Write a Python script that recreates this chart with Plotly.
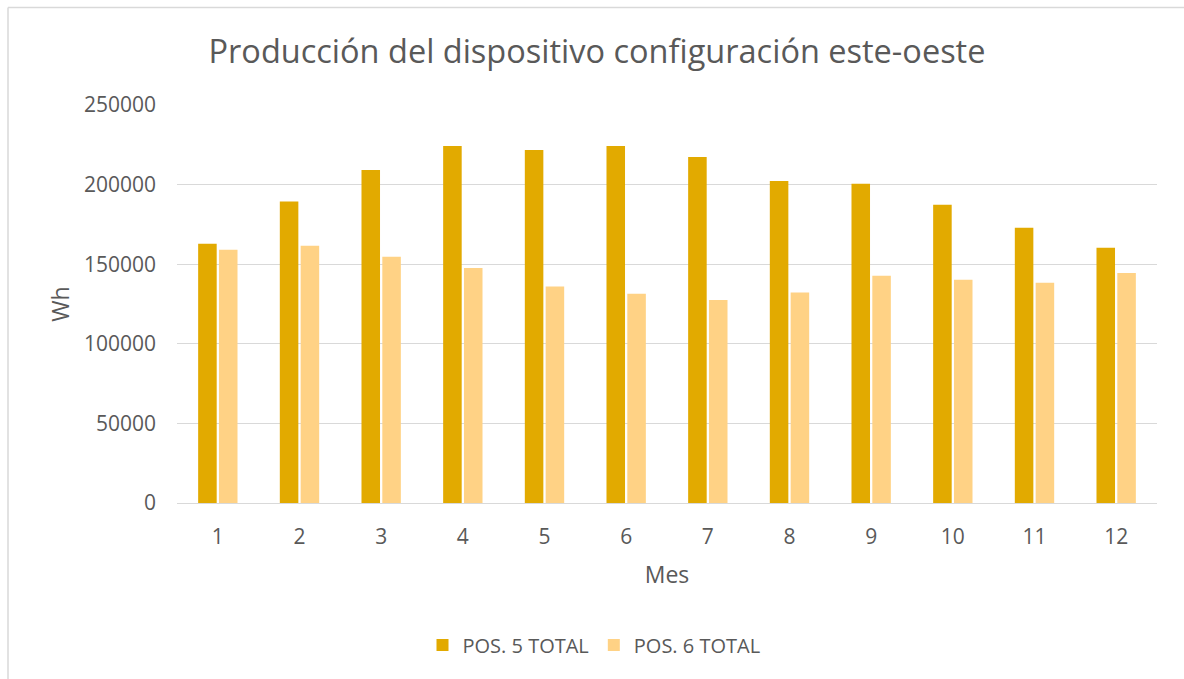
import plotly.graph_objects as go

months = [1, 2, 3, 4, 5, 6, 7, 8, 9, 10, 11, 12]
pos5_total = [162800, 189400, 209200, 224300, 221800, 224300, 217400, 202200, 200500, 187300, 172900, 160300]
pos6_total = [159100, 161600, 154700, 147600, 136000, 131400, 127500, 132300, 142700, 140200, 138300, 144400]
series_names = ["POS. 5 TOTAL", "POS. 6 TOTAL"]
y_ticks = [0, 50000, 100000, 150000, 200000, 250000]

W, H = 1184, 679
ML, MR, MT, MB = 177, 27, 105, 176
pw = W - ML - MR
ph = H - MT - MB

TXT = "#595959"
GRID = "#D9D9D9"
FONT = "Open Sans"

fig = go.Figure()
fig.add_trace(go.Bar(x=months, y=pos5_total, name=series_names[0],
                     marker=dict(color="#E2AA00", line=dict(width=0))))
fig.add_trace(go.Bar(x=months, y=pos6_total, name=series_names[1],
                     marker=dict(color="#FFD285", line=dict(width=0))))

def px_x(p):
    return (p - ML) / pw

def px_y(p):
    return (H - MB - p) / ph

fig.update_layout(
    width=W, height=H,
    margin=dict(l=ML, r=MR, t=MT, b=MB, autoexpand=False),
    paper_bgcolor="white", plot_bgcolor="white",
    font=dict(family=FONT, color=TXT, size=21),
    barmode="group", bargap=0.49, bargroupgap=0.11,
    title=dict(text="Producción del dispositivo configuración este-oeste",
               font=dict(family=FONT, size=32.5, color=TXT),
               x=597 / W, xanchor="center", xref="container",
               y=1 - 52 / H, yanchor="middle", yref="container"),
    xaxis=dict(range=[0.5, 12.5], tickmode="array", tickvals=months,
               ticktext=[str(m) for m in months], showgrid=False,
               showline=True, linecolor=GRID, linewidth=1.3,
               ticks="", ticklabelstandoff=15, zeroline=False,
               tickfont=dict(size=21, color=TXT),
               title=dict(text="Mes", font=dict(size=23, color=TXT), standoff=17)),
    yaxis=dict(range=[0, 250000], tickmode="array", tickvals=y_ticks,
               tickformat="d", showgrid=True, gridcolor=GRID, gridwidth=1.3,
               zeroline=False, showline=False, ticks="", ticklabelstandoff=20,
               tickfont=dict(size=21, color=TXT),
               title=dict(text="Wh", font=dict(size=23, color=TXT), standoff=7)),
    legend=dict(orientation="h", x=px_x(594), xanchor="center",
                y=px_y(645), yanchor="middle",
                font=dict(size=20, color=TXT), bgcolor="rgba(0,0,0,0)",
                itemwidth=30, tracegroupgap=0),
    shapes=[
        dict(type="line", xref="paper", yref="paper",
             x0=px_x(8), x1=px_x(W + 10), y0=px_y(7.5), y1=px_y(7.5),
             line=dict(color=GRID, width=1.5)),
        dict(type="line", xref="paper", yref="paper",
             x0=px_x(8), x1=px_x(8), y0=px_y(7.5), y1=px_y(H + 10),
             line=dict(color=GRID, width=1.5)),
    ],
)

fig.write_html("out.html", config={"displayModeBar": False},
               post_script="document.body.style.margin='0';")
